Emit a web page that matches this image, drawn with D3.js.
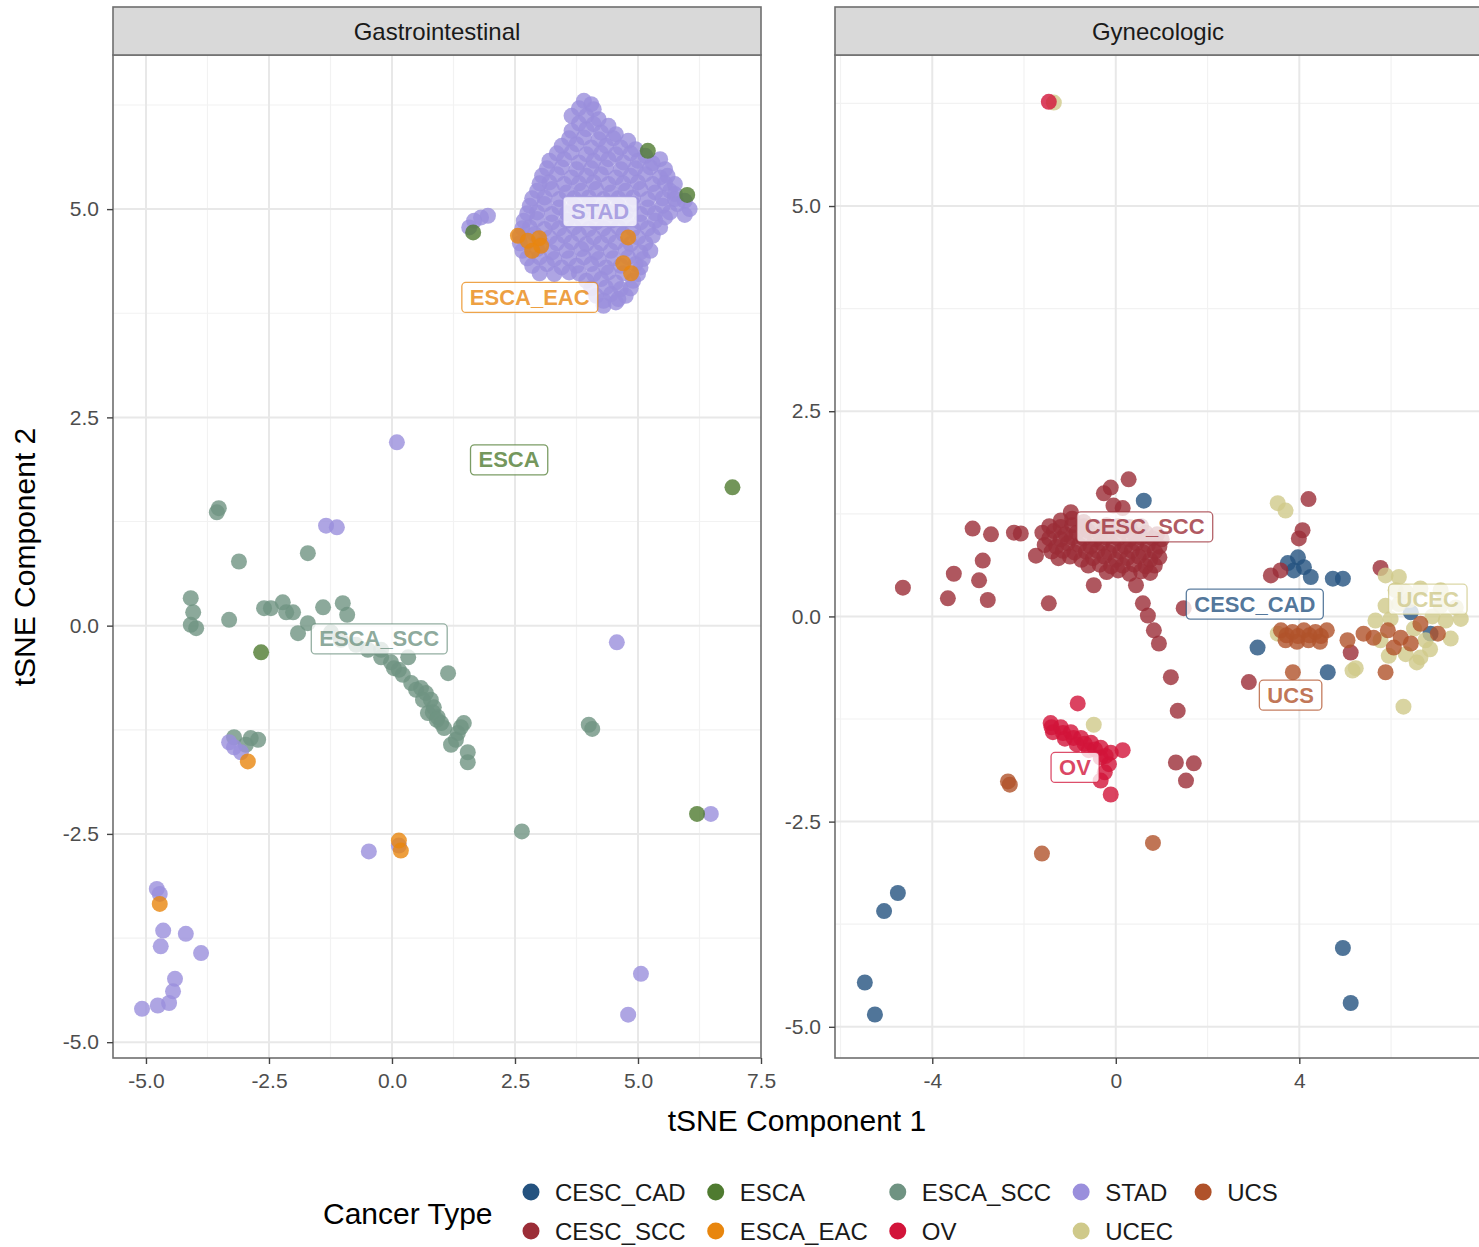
<!DOCTYPE html>
<html>
<head>
<meta charset="utf-8">
<script src="https://cdn.jsdelivr.net/npm/d3@7"></script>
<style>
body { margin: 0; background: #fff; }
text { font-family: "Liberation Sans", Arial, sans-serif; }
</style>
</head>
<body>
<svg id="chart"></svg>
<script>
// categories & palette
var categories = ["CESC_CAD", "CESC_SCC", "ESCA", "ESCA_EAC", "ESCA_SCC", "OV", "STAD", "UCEC", "UCS"];
var palette = ["#24527f", "#9b2d37", "#4f7b30", "#e8860e", "#6f9382", "#d2143a", "#9a8fdc", "#cfc98a", "#b0522a"];

// ---- Gastrointestinal panel (x, y) ----
var giESCA_SCC = [[-3.56,1.36],[-3.52,1.41],[-3.11,0.77],[-1.71,0.87],[-4.09,0.33],[-4.04,0.16],[-4.09,0.01],[-3.98,-0.03],
  [-3.31,0.07],[-2.60,0.21],[-2.46,0.21],[-2.22,0.28],[-2.15,0.16],[-2.01,0.16],[-1.40,0.22],[-1.00,0.27],[-0.91,0.13],
  [-1.91,-0.09],[-1.71,0.03],[-0.49,-0.29],[-0.22,-0.38],[-0.02,-0.44],[0.04,-0.51],[0.33,-0.38],[1.14,-0.57],[0.39,-0.69],
  [0.59,-0.75],[0.69,-0.81],[0.79,-0.89],[0.85,-0.98],[0.73,-1.05],[0.93,-1.10],[1.00,-1.17],[1.06,-1.23],[1.20,-1.43],
  [1.34,-1.29],[1.46,-1.17],[1.54,-1.52],[1.54,-1.64],[-3.21,-1.34],[-2.87,-1.35],[-2.72,-1.37],[-2.97,-1.43],[4.00,-1.19],
  [4.07,-1.24],[2.64,-2.47],[-0.22,-0.29],[0.14,-0.53],[0.22,-0.59],[0.49,-0.77],[0.63,-0.89],[0.83,-1.04],[0.91,-1.13],
  [1.30,-1.37],[1.40,-1.22],[-1.24,-0.08],[-1.04,-0.17],[-0.73,-0.23]];
var giSTAD = [[3.9,6.30],[4.05,6.26],[3.65,6.12],[3.95,6.12],[4.2,6.08],[3.65,5.94],[3.95,5.96],[4.25,5.92],[4.55,5.90],
  [3.45,5.76],[3.75,5.78],[4.05,5.74],[4.35,5.76],[4.65,5.74],[4.95,5.72],
  [3.2,5.58],[3.5,5.6],[3.8,5.56],[4.1,5.58],[4.4,5.6],[4.7,5.56],[5.0,5.58],[5.3,5.55],[5.45,5.6],
  [3.05,5.40],[3.35,5.42],[3.65,5.38],[3.95,5.40],[4.25,5.42],[4.55,5.38],[4.85,5.40],[5.15,5.42],[5.45,5.38],[5.6,5.40],
  [2.95,5.22],[3.25,5.24],[3.55,5.2],[3.85,5.22],[4.15,5.24],[4.45,5.2],[4.75,5.22],[5.05,5.24],[5.35,5.2],[5.65,5.22],[5.75,5.18],
  [2.8,5.04],[3.1,5.06],[3.4,5.02],[3.7,5.04],[4.0,5.06],[4.3,5.02],[4.6,5.04],[4.9,5.06],[5.2,5.02],[5.5,5.04],[5.8,5.06],[6.05,5.0],
  [2.68,4.86],[2.95,4.88],[3.25,4.84],[3.55,4.86],[3.85,4.88],[4.15,4.84],[4.45,4.86],[4.75,4.88],[5.05,4.84],[5.35,4.86],[5.55,4.9],
  [2.6,4.68],[2.9,4.7],[3.2,4.66],[3.5,4.68],[3.8,4.7],[4.1,4.66],[4.4,4.68],[4.7,4.7],[5.0,4.66],[5.3,4.68],
  [2.65,4.50],[2.95,4.52],[3.25,4.48],[3.55,4.50],[3.85,4.52],[4.15,4.48],[4.45,4.50],[4.75,4.52],[5.05,4.48],[5.25,4.5],
  [2.85,4.32],[3.15,4.34],[3.45,4.30],[3.75,4.32],[4.05,4.34],[4.35,4.30],[4.65,4.32],[4.95,4.34],[5.05,4.3],
  [3.95,4.14],[4.25,4.16],[4.55,4.12],[4.9,4.14],[4.15,3.96],[4.45,3.98],[4.75,3.96],[4.3,3.84],[4.55,3.88],
  [3.8,6.21],[4.1,6.2],[3.8,6.03],[4.1,6.02],[4.4,6.0],[3.6,5.85],[3.9,5.86],[4.2,5.84],[4.5,5.85],[4.8,5.82],
  [3.35,5.67],[3.65,5.68],[3.95,5.66],[4.25,5.67],[4.55,5.66],[4.85,5.67],[5.15,5.64],
  [3.15,5.49],[3.45,5.5],[3.75,5.48],[4.05,5.49],[4.35,5.5],[4.65,5.48],[4.95,5.49],[5.25,5.5],[5.55,5.48],
  [3.0,5.31],[3.2,5.32],[3.5,5.3],[3.8,5.31],[4.1,5.32],[4.4,5.3],[4.7,5.31],[5.0,5.32],[5.3,5.3],[5.55,5.31],[5.75,5.3],
  [2.85,5.13],[3.1,5.14],[3.4,5.12],[3.7,5.13],[4.0,5.14],[4.3,5.12],[4.6,5.13],[4.9,5.14],[5.2,5.12],[5.5,5.13],[5.75,5.12],[5.95,5.1],
  [2.75,4.95],[2.95,4.96],[3.25,4.94],[3.55,4.95],[3.85,4.96],[4.15,4.94],[4.45,4.95],[4.75,4.96],[5.05,4.94],[5.35,4.95],[5.65,4.96],[5.95,4.93],
  [2.65,4.77],[2.8,4.78],[3.1,4.76],[3.4,4.77],[3.7,4.78],[4.0,4.76],[4.3,4.77],[4.6,4.78],[4.9,4.76],[5.2,4.77],[5.45,4.78],
  [2.6,4.59],[2.75,4.6],[3.05,4.58],[3.35,4.59],[3.65,4.6],[3.95,4.58],[4.25,4.59],[4.55,4.6],[4.85,4.58],[5.15,4.59],
  [2.75,4.41],[3.0,4.42],[3.3,4.4],[3.6,4.41],[3.9,4.42],[4.2,4.4],[4.5,4.41],[4.8,4.42],[5.1,4.4],
  [3.0,4.23],[3.3,4.22],[3.6,4.24],[3.8,4.23],[4.1,4.22],[4.4,4.24],[4.7,4.23],[5.0,4.22],
  [4.05,4.05],[4.35,4.06],[4.65,4.04],[4.85,4.05],[4.3,3.90],[4.6,3.92],
  [1.67,4.86],[1.81,4.90],[1.95,4.92],[1.57,4.78],
  [0.10,2.20],[-1.34,1.20],[-1.12,1.18],[4.57,-0.20],[6.48,-2.26],[-3.21,-1.46],[-3.07,-1.52],[-3.31,-1.40],[-0.47,-2.71],[0.14,-2.64],
  [-4.78,-3.16],[-4.72,-3.22],[-4.65,-3.66],[-4.70,-3.85],[-4.19,-3.70],[-3.88,-3.93],[-4.41,-4.24],[-4.45,-4.39],[-4.53,-4.53],
  [-4.76,-4.56],[-5.08,-4.60],[5.06,-4.18],[4.80,-4.67]];
var giESCA_EAC = [[2.56,4.68],[2.76,4.62],[2.99,4.65],[3.03,4.56],[4.80,4.66],[4.86,4.23],[4.7,4.35],[2.85,4.5],
  [-2.93,-1.63],[-4.72,-3.34],[0.14,-2.58],[0.18,-2.70]];
var giESCA = [[5.20,5.70],[6.00,5.17],[1.65,4.72],[-2.66,-0.32],[6.92,1.66],[6.20,-2.26]];
var giLabels = [["STAD", 4.23, 4.97], ["ESCA_EAC", 2.80, 3.94], ["ESCA", 2.38, 1.99], ["ESCA_SCC", -0.26, -0.16]];

// ---- Gynecologic panel (x, y) ----
var gyCESC_CAD = [[0.61,1.41],[3.97,0.72],[4.10,0.60],[4.25,0.48],[3.88,0.56],[3.75,0.65],[4.73,0.46],[4.95,0.46],[3.09,-0.38],
  [4.62,-0.68],[6.43,0.05],[6.86,-0.21],[-4.75,-3.37],[-5.05,-3.59],[-5.47,-4.46],[-5.25,-4.85],[4.95,-4.04],[5.12,-4.71]];
var gyCESC_SCC = [[0.28,1.67],[-0.11,1.57],[-0.26,1.50],[-0.98,1.27],[-3.12,1.07],[-2.72,1.00],[-2.22,1.02],[-2.07,1.01],
  [-2.90,0.68],[-3.53,0.52],[-2.98,0.44],[-3.66,0.22],[-2.79,0.20],[-4.64,0.35],[-1.74,0.74],[-1.46,0.16],[-0.48,0.38],[0.44,0.38],
  [0.59,0.16],[0.70,0.01],[0.83,-0.17],[0.94,-0.33],[1.20,-0.74],[1.35,-1.15],[1.31,-1.78],[1.70,-1.79],[1.53,-2.00],
  [4.20,1.43],[4.07,1.05],[3.99,0.95],[3.38,0.50],[3.59,0.56],[5.77,0.59],[5.12,-0.44],[2.90,-0.80],[1.48,0.10],
  [-1.2,1.17],[-0.95,1.19],[-0.7,1.15],[-0.05,1.35],[0.15,1.32],
  [-1.6,1.02],[-1.35,1.04],[-1.1,1.0],[-0.85,1.02],[-0.6,1.04],[-0.35,1.0],[-0.1,1.02],[0.15,1.04],[0.4,1.0],[0.65,1.02],[0.9,1.0],
  [-1.55,0.87],[-1.3,0.85],[-1.05,0.89],[-0.8,0.87],[-0.55,0.85],[-0.3,0.89],[-0.05,0.87],[0.2,0.85],[0.45,0.89],[0.7,0.87],[0.95,0.85],
  [-1.25,0.71],[-1.0,0.73],[-0.75,0.69],[-0.5,0.71],[-0.25,0.73],[0.0,0.69],[0.25,0.71],[0.5,0.73],[0.75,0.69],[0.95,0.72],
  [-0.2,0.54],[0.05,0.56],[0.3,0.52],[0.55,0.55],[0.75,0.53],
  [-1.45,1.1],[-1.2,1.09],[-0.95,1.11],[-0.7,1.1],[-0.45,1.09],[-0.2,1.11],[0.05,1.1],[0.3,1.09],[0.55,1.1],
  [-1.45,0.95],[-1.2,0.94],[-0.95,0.96],[-0.7,0.95],[-0.45,0.94],[-0.2,0.96],[0.05,0.95],[0.3,0.94],[0.55,0.96],[0.8,0.95],[1.0,0.94],
  [-1.4,0.79],[-1.15,0.8],[-0.9,0.78],[-0.65,0.79],[-0.4,0.8],[-0.15,0.78],[0.1,0.79],[0.35,0.8],[0.6,0.78],[0.85,0.79],
  [-0.6,0.62],[-0.35,0.63],[-0.1,0.61],[0.15,0.62],[0.4,0.63],[0.65,0.61],[0.85,0.62]];
var gyUCEC = [[-1.35,6.26],[3.53,1.38],[3.70,1.29],[5.88,0.50],[6.17,0.48],[6.10,0.32],[6.32,0.30],[6.64,0.34],[7.08,0.32],
  [5.88,0.13],[6.17,0.15],[7.08,0.13],[7.41,0.11],[5.66,-0.05],[5.99,-0.03],[7.19,-0.05],[7.52,-0.03],[5.77,-0.29],[6.75,-0.29],
  [7.30,-0.27],[5.95,-0.48],[6.32,-0.46],[6.64,-0.50],[6.56,-0.56],[5.23,-0.63],[6.27,-1.10],[5.16,-0.66],[-0.48,-1.32],[3.53,-0.21],
  [6.4,0.2],[6.9,0.0],[6.5,-0.15],[6.85,-0.4]];
var gyUCS = [[3.6,-0.17],[3.85,-0.19],[4.1,-0.17],[4.35,-0.19],[4.6,-0.17],[3.7,-0.29],[3.95,-0.31],[4.2,-0.29],[4.45,-0.31],
  [3.72,-0.23],[3.97,-0.24],[4.22,-0.23],[4.47,-0.24],
  [5.40,-0.21],[5.62,-0.26],[5.93,-0.17],[6.21,-0.26],[6.43,-0.33],[6.64,-0.09],[7.02,-0.21],[6.06,-0.38],[5.05,-0.29],[5.88,-0.68],
  [3.86,-0.68],[-2.35,-2.01],[-2.31,-2.05],[-1.61,-2.89],[0.81,-2.76]];
var gyOV = [[-1.46,6.27],[-1.42,-1.30],[-1.20,-1.35],[-0.98,-1.41],[-0.76,-1.48],[-0.54,-1.54],[-0.33,-1.60],[-0.11,-1.66],[0.15,-1.63],
  [-1.37,-1.41],[-1.11,-1.49],[-0.85,-1.56],[-0.59,-1.63],[-0.33,-1.72],[-0.15,-1.80],[-0.24,-1.90],[-0.33,-2.00],[-0.11,-2.17],[-0.83,-1.06],
  [-1.40,-1.35],[-1.15,-1.42],[-0.92,-1.48],[-0.68,-1.55],[-0.45,-1.62],[-0.22,-1.70]];
var gyLabels = [["CESC_SCC", 0.63, 1.09], ["CESC_CAD", 3.03, 0.15], ["UCS", 3.81, -0.96], ["OV", -0.89, -1.84], ["UCEC", 6.80, 0.21]];

var xTicksGI = [-5, -2.5, 0, 2.5, 5, 7.5];
var xTicksGY = [-4, 0, 4];
var yTicks = [-5, -2.5, 0, 2.5, 5];

var W = 1479, H = 1247;
var svg = d3.select("#chart").attr("width", W).attr("height", H);
var color = d3.scaleOrdinal().domain(categories).range(palette);

// ggplot prints a plain hyphen for negatives
function hyph(fmt) {
	return function(d) { return d3.format(fmt)(d).replace("\u2212", "-"); };
}

function drawPanel(p) {
	var x = d3.scaleLinear().domain(p.xDomain).range([p.left, p.right]);
	var y = d3.scaleLinear().domain(p.yDomain).range([p.bottom, p.top]);
	var g = svg.append("g");

	// grid
	var xMinor = [], yMinor = [];
	for (var i = 0; i < p.xTicks.length - 1; i++) xMinor.push((p.xTicks[i] + p.xTicks[i+1]) / 2);
	xMinor.push(p.xTicks[0] - (p.xTicks[1] - p.xTicks[0]) / 2);
	xMinor.push(p.xTicks[p.xTicks.length-1] + (p.xTicks[1] - p.xTicks[0]) / 2);
	for (var j = 0; j < yTicks.length - 1; j++) yMinor.push((yTicks[j] + yTicks[j+1]) / 2);
	yMinor.push(6.25);
	xMinor = xMinor.filter(function(d) { return d > p.xDomain[0] && d < p.xDomain[1]; });

	g.selectAll(".vminor").data(xMinor).enter().append("line")
		.attr("x1", function(d) { return x(d); }).attr("x2", function(d) { return x(d); })
		.attr("y1", p.top).attr("y2", p.bottom).attr("stroke", "#f2f2f2").attr("stroke-width", 1.2);
	g.selectAll(".hminor").data(yMinor).enter().append("line")
		.attr("y1", function(d) { return y(d); }).attr("y2", function(d) { return y(d); })
		.attr("x1", p.left).attr("x2", p.right).attr("stroke", "#f2f2f2").attr("stroke-width", 1.2);
	g.selectAll(".vmajor").data(p.xTicks.filter(function(d) { return d < p.xDomain[1]; })).enter().append("line")
		.attr("x1", function(d) { return x(d); }).attr("x2", function(d) { return x(d); })
		.attr("y1", p.top).attr("y2", p.bottom).attr("stroke", "#e8e8e8").attr("stroke-width", 2);
	g.selectAll(".hmajor").data(yTicks).enter().append("line")
		.attr("y1", function(d) { return y(d); }).attr("y2", function(d) { return y(d); })
		.attr("x1", p.left).attr("x2", p.right).attr("stroke", "#e8e8e8").attr("stroke-width", 2);

	// points
	var clipId = "clip" + p.name;
	svg.append("clipPath").attr("id", clipId).append("rect")
		.attr("x", p.left).attr("y", p.top).attr("width", p.right - p.left).attr("height", p.bottom - p.top);
	var pts = g.append("g").attr("clip-path", "url(#" + clipId + ")");
	p.series.forEach(function(s) {
		pts.selectAll(null).data(s.values).enter().append("circle")
			.attr("cx", function(d) { return x(d[0]); })
			.attr("cy", function(d) { return y(d[1]); })
			.attr("r", 8)
			.attr("fill", color(s.cat))
			.attr("fill-opacity", 0.8);
	});

	// labels
	p.labels.forEach(function(l) {
		var lg = pts.append("g");
		var t = lg.append("text")
			.attr("x", x(l[1])).attr("y", y(l[2]))
			.attr("text-anchor", "middle").attr("dominant-baseline", "central")
			.attr("font-size", "22px").attr("font-weight", "bold")
			.attr("fill", color(l[0])).attr("fill-opacity", 0.8)
			.text(l[0]);
		var bb = t.node().getBBox();
		lg.insert("rect", "text")
			.attr("x", bb.x - 8).attr("y", y(l[2]) - 15)
			.attr("width", bb.width + 16).attr("height", 30)
			.attr("rx", 4)
			.attr("fill", "#fff").attr("fill-opacity", 0.78)
			.attr("stroke", color(l[0])).attr("stroke-opacity", 0.75).attr("stroke-width", 1.3);
	});

	// border
	g.append("rect").attr("x", p.left).attr("y", p.top).attr("width", p.right - p.left).attr("height", p.bottom - p.top)
		.attr("fill", "none").attr("stroke", "#6e6e6e").attr("stroke-width", 1.6);

	// strip
	g.append("rect").attr("x", p.left).attr("y", 7).attr("width", p.right - p.left).attr("height", p.top - 7)
		.attr("fill", "#d9d9d9").attr("stroke", "#6e6e6e").attr("stroke-width", 1.6);
	g.append("text").attr("x", (p.left + p.right) / 2).attr("y", (p.top + 7) / 2)
		.attr("text-anchor", "middle").attr("dominant-baseline", "central")
		.attr("font-size", "24px").attr("fill", "#1a1a1a").text(p.title);

	// axes
	var ax = g.append("g").attr("transform", "translate(0," + p.bottom + ")")
		.call(d3.axisBottom(x).tickValues(p.xTicks).tickFormat(p.xFormat).tickSize(6).tickPadding(9));
	var ay = g.append("g").attr("transform", "translate(" + p.left + ",0)")
		.call(d3.axisLeft(y).tickValues(yTicks).tickFormat(hyph(".1f")).tickSize(6).tickPadding(8));
	[ax, ay].forEach(function(a) {
		a.select(".domain").remove();
		a.selectAll(".tick line").attr("stroke", "#444").attr("stroke-width", 1.4);
		a.selectAll(".tick text").attr("fill", "#4d4d4d").attr("font-size", "21px")
			.style("font-family", "'Liberation Sans', Arial, sans-serif");
	});
}

drawPanel({
	name: "gi", title: "Gastrointestinal",
	left: 113, right: 761, top: 55, bottom: 1058,
	xDomain: [-5.67, 7.5], yDomain: [-5.19, 6.85],
	xTicks: xTicksGI, xFormat: hyph(".1f"),
	series: [
		{cat: "ESCA_SCC", values: giESCA_SCC},
		{cat: "STAD", values: giSTAD},
		{cat: "ESCA_EAC", values: giESCA_EAC},
		{cat: "ESCA", values: giESCA}
	],
	labels: giLabels
});

drawPanel({
	name: "gy", title: "Gynecologic",
	left: 835, right: 1481, top: 55, bottom: 1058,
	xDomain: [-6.12, 7.96], yDomain: [-5.38, 6.84],
	xTicks: xTicksGY, xFormat: hyph("d"),
	series: [
		{cat: "CESC_CAD", values: gyCESC_CAD},
		{cat: "CESC_SCC", values: gyCESC_SCC},
		{cat: "UCEC", values: gyUCEC},
		{cat: "UCS", values: gyUCS},
		{cat: "OV", values: gyOV}
	],
	labels: gyLabels
});

// axis titles
svg.append("text").attr("x", 797).attr("y", 1131).attr("text-anchor", "middle")
	.attr("font-size", "30px").attr("fill", "#000").text("tSNE Component 1");
svg.append("text").attr("transform", "translate(35,557) rotate(-90)").attr("text-anchor", "middle")
	.attr("font-size", "30px").attr("fill", "#000").text("tSNE Component 2");

// legend
var legend = svg.append("g");
legend.append("text").attr("x", 323).attr("y", 1213).attr("dominant-baseline", "central")
	.attr("font-size", "30px").attr("fill", "#000").text("Cancer Type");
var rowsY = [1192, 1231];
var keyX = 531;
for (var c = 0; c < Math.ceil(categories.length / 2); c++) {
	var maxW = 0;
	for (var r = 0; r < 2; r++) {
		var idx = c * 2 + r;
		if (idx >= categories.length) continue;
		legend.append("circle").attr("cx", keyX).attr("cy", rowsY[r]).attr("r", 8.5)
			.attr("fill", color(categories[idx]));
		var tt = legend.append("text").attr("x", keyX + 24).attr("y", rowsY[r])
			.attr("dominant-baseline", "central").attr("font-size", "24px").attr("fill", "#1a1a1a")
			.text(categories[idx]);
		maxW = Math.max(maxW, tt.node().getComputedTextLength());
	}
	keyX = keyX + 24 + maxW + 30;
}
</script>
</body>
</html>
